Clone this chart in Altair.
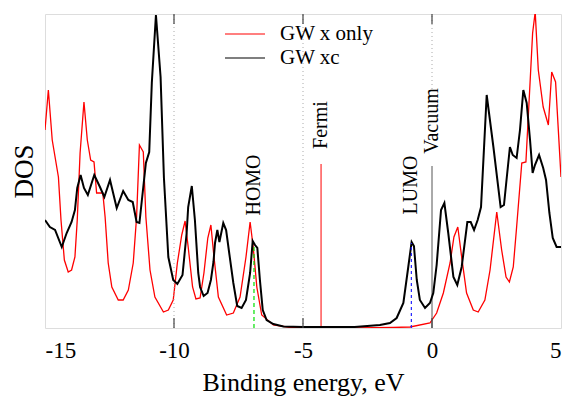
import altair as alt
import pandas as pd

# ---- data ----
black_e = [-15.00, -14.81, -14.61, -14.35, -14.16, -13.97, -13.84, -13.75, -13.62, -13.49,
           -13.34, -13.09, -12.87, -12.70, -12.48, -12.22, -11.97, -11.77, -11.60, -11.45,
           -11.34, -11.09, -10.96, -10.86, -10.70, -10.52, -10.39, -10.22, -10.03, -9.87,
           -9.67, -9.51, -9.45, -9.31, -9.19, -9.06, -8.99, -8.85, -8.70, -8.57,
           -8.47, -8.41, -8.32, -8.24, -8.09, -7.98, -7.86, -7.70, -7.55, -7.38,
           -7.21, -7.05, -6.95, -6.86, -6.77, -6.67, -6.56, -6.41, -6.15, -5.76,
           -5.0, -3.0, -2.02, -1.63, -1.37, -1.11, -0.92, -0.79, -0.70, -0.59,
           -0.47, -0.27, -0.08, 0.05, 0.18, 0.35, 0.48, 0.63, 0.83, 0.98,
           1.15, 1.37, 1.50, 1.63, 1.77, 1.90, 2.12, 2.38, 2.66, 2.79,
           2.90, 3.02, 3.13, 3.28, 3.41, 3.54, 3.67, 3.80, 3.90, 3.99,
           4.15, 4.31, 4.42, 4.55, 4.68, 4.83, 5.0]
black_dos = [1.08, 1.01, 0.98, 0.81, 0.95, 1.06, 1.18, 1.40, 1.53, 1.40,
             1.33, 1.53, 1.41, 1.31, 1.48, 1.20, 1.37, 1.28, 1.26, 1.06,
             1.05, 1.65, 1.76, 2.45, 3.13, 2.51, 1.50, 0.71, 0.48, 0.44,
             0.53, 0.95, 1.21, 1.42, 1.08, 0.55, 0.41, 0.32, 0.35, 0.48,
             0.66, 0.85, 0.98, 0.86, 1.05, 0.98, 0.75, 0.45, 0.22, 0.20,
             0.28, 0.55, 0.87, 0.83, 0.80, 0.48, 0.18, 0.08, 0.04, 0.015,
             0.01, 0.01, 0.03, 0.05, 0.10, 0.25, 0.61, 0.86, 0.82, 0.48,
             0.28, 0.20, 0.25, 0.35, 0.63, 1.18, 1.25, 0.95, 0.51, 0.43,
             0.61, 1.06, 1.06, 0.98, 1.08, 1.21, 2.33, 1.81, 1.21, 1.23,
             1.51, 1.81, 1.73, 1.70, 1.98, 2.38, 2.25, 1.88, 1.55, 1.63,
             1.73, 1.60, 1.48, 1.15, 0.90, 0.81, 0.81]

red_e = [-15.00, -14.87, -14.72, -14.48, -14.38, -14.25, -14.10, -13.97, -13.84, -13.75,
         -13.64, -13.49, -13.36, -13.23, -13.10, -13.00, -12.76, -12.67, -12.55, -12.41,
         -12.16, -11.97, -11.77, -11.58, -11.45, -11.34, -11.19, -11.09, -10.93, -10.74,
         -10.41, -10.22, -10.03, -9.87, -9.70, -9.57, -9.45, -9.28, -9.15, -8.99,
         -8.84, -8.69, -8.57, -8.45, -8.28, -7.96, -7.70, -7.44, -7.21, -7.05,
         -6.93, -6.79, -6.60, -6.15, -5.50, -3.0, -1.5, -0.85, -0.08, 0.18,
         0.44, 0.70, 0.85, 1.00, 1.15, 1.34, 1.60, 1.79, 2.05, 2.25,
         2.51, 2.70, 2.87, 3.00, 3.15, 3.28, 3.48, 3.64, 3.80, 3.90,
         4.00, 4.12, 4.31, 4.51, 4.64, 4.79, 5.0]
red_dos = [1.98, 2.38, 1.88, 1.51, 1.08, 0.68, 0.56, 0.58, 0.71, 1.08,
           1.75, 2.26, 1.88, 1.68, 1.66, 1.35, 1.35, 1.11, 0.65, 0.41,
           0.28, 0.28, 0.38, 0.65, 1.11, 1.83, 1.76, 1.11, 0.58, 0.31,
           0.16, 0.18, 0.28, 0.65, 0.93, 1.07, 0.81, 0.41, 0.29, 0.30,
           0.55, 0.90, 1.03, 0.71, 0.31, 0.13, 0.15, 0.31, 0.71, 1.06,
           0.81, 0.41, 0.13, 0.03, 0.005, 0.002, 0.005, 0.01, 0.05, 0.15,
           0.35, 0.65, 0.91, 1.01, 0.71, 0.35, 0.18, 0.16, 0.28, 0.58,
           1.16, 0.78, 0.51, 0.46, 0.61, 1.01, 1.65, 1.66, 2.45, 2.95,
           3.16, 2.58, 2.21, 2.03, 2.56, 2.46, 1.51]

series_names = ["GW x only", "GW xc"]
series_colors = ["#ff0000", "#000000"]

# energy markers
marker_names = ["HOMO", "Fermi", "LUMO", "Vacuum"]
marker_e = [-6.9, -4.3, -0.8, 0.0]
marker_top = [0.81, 1.64, 0.85, 1.62]     # top of the solid/dashed marker segment
label_dos = [1.43, 2.03, 1.43, 2.07]      # centre of the rotated label

grid_e = [-10, -5]
x_ticks = [-15, -10, -5, 0, 5]
inner_ticks = [-10, -5, 0]
y_max = 3.14
vac_dotted_from = 2.39

FONT = "Liberation Serif"

df_red = pd.DataFrame({"e": red_e, "dos": red_dos, "series": series_names[0]})
df_black = pd.DataFrame({"e": black_e, "dos": black_dos, "series": series_names[1]})

xscale = alt.Scale(domain=[-15, 5], nice=False, zero=False)
yscale = alt.Scale(domain=[0, y_max], nice=False, zero=True)

xaxis = alt.Axis(values=x_ticks, ticks=False, domain=False, grid=False,
                 labelFont=FONT, labelExpr="'' + datum.value", title="Binding energy, eV")
yaxis = alt.Axis(labels=False, ticks=False, domain=False, grid=False, title="DOS")

X = alt.X("e:Q", scale=xscale, axis=xaxis)

color = alt.Color("series:N",
                  scale=alt.Scale(domain=series_names, range=series_colors),
                  legend=alt.Legend(orient="none", legendX=189, legendY=9, title=None,
                                    padding=0, symbolType="M-2,0L2,0", symbolSize=400,
                                    symbolStrokeWidth=1.2, labelFont=FONT, labelFontSize=21,
                                    labelColor="black", labelOffset=24, rowPadding=3))

# dotted grid lines
df_grid = pd.DataFrame({"e": grid_e, "lo": 0.0, "hi": y_max})
grid = alt.Chart(df_grid).mark_rule(color="#aaaaaa", strokeWidth=1, strokeDash=[1, 3]).encode(
    x=X, y=alt.Y("lo:Q", scale=yscale, axis=yaxis), y2="hi:Q")
df_vac_dot = pd.DataFrame({"e": [marker_e[3]], "lo": [vac_dotted_from], "hi": [y_max]})
vac_dot = alt.Chart(df_vac_dot).mark_rule(color="#aaaaaa", strokeWidth=1, strokeDash=[1, 3]).encode(
    x=X, y=alt.Y("lo:Q", scale=yscale, axis=yaxis), y2="hi:Q")

df_mark = pd.DataFrame({"name": marker_names, "e": marker_e, "lo": 0.0, "hi": marker_top,
                        "ly": label_dos})

def seg(name, color, dash=None, width=1.0):
    kw = dict(color=color, strokeWidth=width)
    if dash:
        kw["strokeDash"] = dash
    return alt.Chart(df_mark[df_mark.name == name]).mark_rule(**kw).encode(
        x=X, y=alt.Y("lo:Q", scale=yscale, axis=yaxis), y2="hi:Q")

homo = seg("HOMO", "#00e000", [4, 3], 1.2)
fermi = seg("Fermi", "#ff0000", None, 1.0)
lumo = seg("LUMO", "#2222ff", [3, 3], 1.2)
vac = seg("Vacuum", "#555555", None, 1.0)

red_line = alt.Chart(df_red).mark_line(strokeWidth=1.3, clip=True).encode(
    x=X, y=alt.Y("dos:Q", scale=yscale, axis=yaxis), color=color)
black_line = alt.Chart(df_black).mark_line(strokeWidth=2.0, clip=True).encode(
    x=X, y=alt.Y("dos:Q", scale=yscale, axis=yaxis), color=color)

labels = alt.Chart(df_mark).mark_text(angle=270, align="center", baseline="middle",
                                      font=FONT, fontSize=20, color="black").encode(
    x=X, y=alt.Y("ly:Q", scale=yscale, axis=yaxis), text="name:N")

df_ticks = pd.DataFrame({"e": inner_ticks})
tick_b = alt.Chart(df_ticks).mark_rule(color="#444444", strokeWidth=1.2).encode(
    x=X, y=alt.value(314), y2=alt.value(304))
tick_t = alt.Chart(df_ticks).mark_rule(color="#444444", strokeWidth=1.2).encode(
    x=X, y=alt.value(0), y2=alt.value(10))

chart = alt.layer(red_line, grid, vac_dot, fermi, vac, black_line, homo, lumo,
                  labels, tick_b, tick_t).properties(
    width=516, height=314,
    autosize=alt.AutoSizeParams(type="none"),
    padding={"left": 37, "top": 6, "right": 1, "bottom": 70},
).configure_view(stroke="#333333", strokeWidth=1.3).configure(
    background="white"
).configure_axisX(
    labelFont=FONT, labelFontSize=23, labelColor="black", labelPadding=11,
    titleFont=FONT, titleFontSize=26, titleFontWeight="normal", titleColor="black",
    titlePadding=7
).configure_axisY(
    titleFont=FONT, titleFontSize=27, titleFontWeight="normal", titleColor="black",
    titlePadding=7
)

chart.save("out.html", embed_options={"renderer": "svg", "actions": False})
